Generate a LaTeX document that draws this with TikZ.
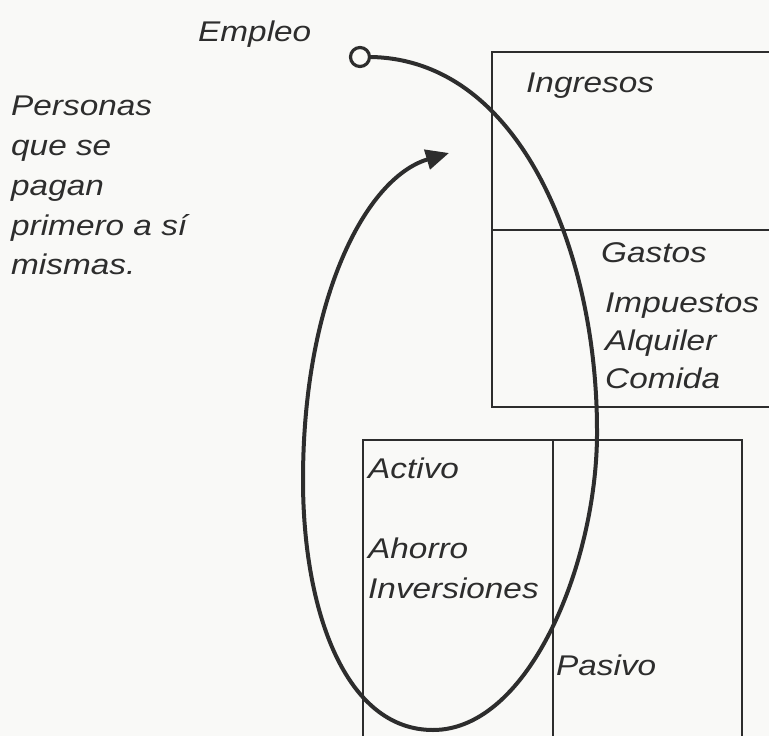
\documentclass[tikz,border=0pt]{standalone}
\usepackage{fontspec}
\setmainfont{Liberation Sans}[FakeStretch=1.17]
\usetikzlibrary{arrows.meta}
\definecolor{ink}{RGB}{45,45,45}
\definecolor{paper}{RGB}{249,249,247}
\begin{document}
\begin{tikzpicture}[x=1pt,y=-1pt,
  lbl/.style={anchor=base west,inner sep=0pt,text=ink,font=\fontsize{28.5}{40}\selectfont\itshape},
  boxline/.style={draw=ink,line width=2.6pt},
  flow/.style={draw=ink,line width=4pt},
  endpt/.style={circle,draw=ink,line width=3.2pt,fill=paper,minimum size=19pt,inner sep=0pt}]
\fill[paper] (0,0) rectangle (769,736);
\path[use as bounding box] (0,0) rectangle (769,736);
\clip (0,0) rectangle (769,736);
% boxes
\draw[boxline] (780,52) -- (492,52) -- (492,407) -- (780,407);
\draw[boxline] (492,230) -- (780,230);
\draw[boxline] (363,750) -- (363,440) -- (742,440) -- (742,750);
\draw[boxline] (553,440) -- (553,750);
% texts
\node[lbl] (emp) at (198,41) {Empleo};
\node[lbl] (p1) at (11,115) {Personas};
\node[lbl] (p2) at (11,155) {que se};
\node[lbl] (p3) at (11,195) {pagan};
\node[lbl] (p4) at (11,235) {primero a sí};
\node[lbl] (p5) at (11,274) {mismas.};
\node[lbl] (ing) at (526,92) {Ingresos};
\node[lbl] (gas) at (601,262) {Gastos};
\node[lbl] (imp) at (605,312) {Impuestos};
\node[lbl] (alq) at (605,350) {Alquiler};
\node[lbl] (com) at (605,388) {Comida};
\node[lbl] (act) at (368,478) {Activo};
\node[lbl] (aho) at (368,558) {Ahorro};
\node[lbl] (inv) at (368,598) {Inversiones};
\node[lbl] (pas) at (556,675) {Pasivo};
% flow
\node[endpt] (start) at (360,57) {};
\coordinate (tip) at (449,153);
\draw[flow,-{Triangle[length=23pt,width=20pt]}] (start.east)
  .. controls (522,60) and (597,255) .. (597,430)
  .. controls (598,560) and (530,730) .. (433,730)
  .. controls (345,730) and (303,610) .. (303,480)
  .. controls (303,300) and (365,178) .. (tip);
\end{tikzpicture}
\end{document}
